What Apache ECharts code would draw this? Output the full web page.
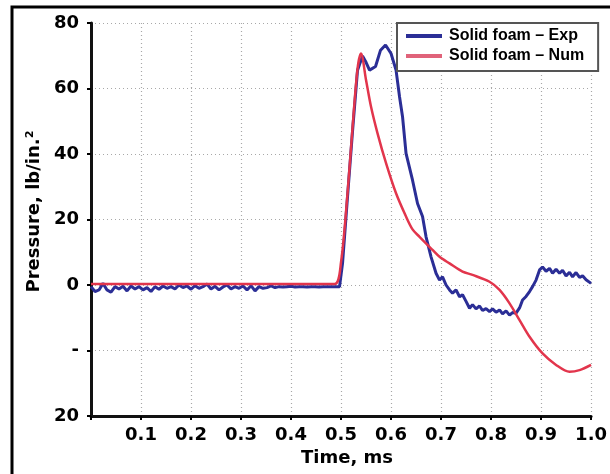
<!DOCTYPE html>
<html>
<head>
<meta charset="utf-8">
<script src="https://cdn.jsdelivr.net/npm/echarts@6/dist/echarts.min.js"></script>
<style>
  html, body { margin: 0; padding: 0; background: #fff; }
  #chart { width: 610px; height: 474px; }
</style>
</head>
<body>
<div id="chart"></div>
<script>
// tick labels as printed on the figure
const xTicks = [0.1, 0.2, 0.3, 0.4, 0.5, 0.6, 0.7, 0.8, 0.9, 1.0]
const yTickLabels = { '80': '80', '60': '60', '40': '40', '20': '20', '0': '0', '-20': '-', '-40': '20' }

// Solid foam - Exp (time in ms, pressure in lb/in.^2)
const expTime = [
  0.000, 0.008, 0.016, 0.024, 0.032, 0.040, 0.048, 0.056, 0.064, 0.072, 0.080, 0.088, 0.096,
  0.104, 0.112, 0.120, 0.128, 0.136, 0.144, 0.152, 0.160, 0.168, 0.176, 0.184, 0.192,
  0.200, 0.208, 0.216, 0.224, 0.232, 0.240, 0.248, 0.256, 0.264, 0.272, 0.280, 0.288,
  0.296, 0.304, 0.312, 0.320, 0.328, 0.336, 0.344, 0.352, 0.360, 0.368, 0.376, 0.384,
  0.392, 0.400, 0.408, 0.416, 0.424, 0.432, 0.440, 0.448, 0.456, 0.464, 0.472, 0.480,
  0.490, 0.497, 0.503, 0.513, 0.523, 0.533, 0.543, 0.550, 0.557, 0.569, 0.579, 0.589,
  0.600, 0.610, 0.617, 0.623, 0.630, 0.643, 0.653, 0.663, 0.670, 0.680, 0.690, 0.697,
  0.703, 0.710, 0.717, 0.723, 0.730, 0.737, 0.743, 0.750, 0.757, 0.763, 0.770, 0.777,
  0.783, 0.790, 0.797, 0.803, 0.810, 0.817, 0.823, 0.830, 0.837, 0.843, 0.850, 0.857,
  0.863, 0.870, 0.877, 0.883, 0.890, 0.897, 0.903, 0.910, 0.917, 0.923, 0.930, 0.937,
  0.943, 0.950, 0.957, 0.963, 0.970, 0.977, 0.983, 0.990, 1.000
]
const expPressure = [
  -0.5, -2.0, -1.5, 0.5, -1.5, -2.2, -0.5, -1.2, -0.4, -1.8, -0.3, -1.2,
  -0.5, -1.5, -0.8, -2.0, -0.5, -1.3, -0.3, -1.0, -0.5, -1.2, 0.0, -0.8, -0.3,
  -1.3, -0.2, -1.0, -0.5, 0.3, -1.2, -0.4, -1.5, -0.6, 0.0, -1.2, -0.5,
  -1.0, -0.3, -1.5, -0.2, -1.8, -0.5, -1.0, -0.8, -0.3, -0.8, -0.5, -0.6,
  -0.5, -0.4, -0.6, -0.5, -0.5, -0.6, -0.5, -0.5, -0.6, -0.5, -0.5, -0.5,
  -0.5, -0.5, 6.6, 27.0, 47.0, 65.6, 69.9, 68.0, 65.6, 66.7, 71.7, 73.3,
  70.7, 65.6, 57.5, 51.4, 40.2, 32.0, 24.9, 20.9, 14.7, 8.6, 3.6, 1.5,
  2.5, 0.0, -1.5, -2.5, -1.5, -3.6, -3.0, -5.0, -7.1, -6.0, -7.3, -6.4,
  -7.8, -7.2, -8.1, -7.3, -8.3, -7.6, -8.8, -7.9, -9.2, -8.4, -8.6, -7.0,
  -4.6, -3.5, -2.0, -0.5, 1.5, 4.6, 5.5, 4.2, 5.1, 3.6, 4.8, 3.6,
  4.5, 2.8, 3.9, 2.5, 3.8, 2.3, 2.8, 1.6, 0.5
]

// Solid foam - Num
const numTime = [
  0.000, 0.100, 0.200, 0.300, 0.400, 0.487, 0.500, 0.513, 0.523, 0.533, 0.540, 0.550,
  0.560, 0.573, 0.590, 0.610, 0.630, 0.643, 0.657, 0.683, 0.697, 0.717, 0.743, 0.763,
  0.797, 0.817, 0.837, 0.857, 0.877, 0.903, 0.930, 0.957, 0.977, 1.000
]
const numPressure = [
  0.3, 0.3, 0.3, 0.3, 0.3, 0.3, 7.0, 28.0, 48.0, 66.0, 70.7, 62.6,
  54.4, 46.3, 37.2, 28.0, 20.9, 17.0, 14.7, 10.7, 8.6, 6.6, 4.1, 3.1,
  1.0, -1.5, -5.6, -10.7, -15.8, -20.9, -24.4, -26.5, -26.0, -24.4
]

const expColor = '#2b2e96'
const numColor = '#e2354c'
const tickFont = 'DejaVu Sans, Verdana, sans-serif'
const legendFont = 'Liberation Sans, Arial, Helvetica, sans-serif'

const chart = echarts.init(document.getElementById('chart'))
chart.setOption({
  animation: false,
  backgroundColor: '#fff',
  // frame of the figure: only the left and top edges are inside the picture
  graphic: [
    {
      type: 'polyline',
      shape: { points: [[12, 474], [12, 7], [610, 7]] },
      style: { fill: null, stroke: '#000', lineWidth: 3 },
      z: 0
    }
  ],
  legend: {
    left: 397,
    top: 23,
    orient: 'vertical',
    itemGap: 4,
    itemWidth: 36,
    itemHeight: 4,
    icon: 'rect',
    padding: [5, 14, 7, 9],
    borderColor: '#555',
    borderWidth: 2,
    backgroundColor: '#fff',
    textStyle: { fontFamily: legendFont, fontWeight: 'bold', fontSize: 16, color: '#000', padding: [0, 0, 0, 2] },
    data: [
      { name: 'Solid foam \u2013 Exp', itemStyle: { color: expColor } },
      { name: 'Solid foam \u2013 Num', itemStyle: { color: '#e0637a' } }
    ]
  },
  grid: { left: 91, right: 18, top: 23, bottom: 58 },
  xAxis: {
    type: 'value',
    min: 0,
    max: 1,
    interval: 0.1,
    name: 'Time, ms',
    nameLocation: 'middle',
    nameGap: 25,
    nameTextStyle: { fontFamily: tickFont, fontWeight: 'bold', fontSize: 18, color: '#000', padding: [0, 0, 0, 12] },
    axisLine: { onZero: false, lineStyle: { color: '#111', width: 3 } },
    axisTick: { show: true, length: 4, lineStyle: { color: '#000', width: 2 } },
    axisLabel: {
      fontFamily: tickFont, fontWeight: 'bold', fontSize: 18, color: '#000', margin: 10,
      formatter: v => (xTicks.some(t => Math.abs(t - v) < 1e-6) ? v.toFixed(1) : '')
    },
    splitLine: { show: true, lineStyle: { color: '#a8a8a8', type: [1, 3], width: 1.2 } }
  },
  yAxis: {
    type: 'value',
    min: -40,
    max: 80,
    interval: 20,
    name: 'Pressure, lb/in.\u00b2',
    nameLocation: 'middle',
    nameGap: 48,
    nameTextStyle: { fontFamily: tickFont, fontWeight: 'bold', fontSize: 18, color: '#000', padding: [0, 0, 0, 16] },
    axisLine: { show: true, onZero: false, lineStyle: { color: '#111', width: 3 } },
    axisTick: { show: true, length: 4, lineStyle: { color: '#000', width: 2 } },
    axisLabel: {
      fontFamily: tickFont, fontWeight: 'bold', fontSize: 18, color: '#000', margin: 12,
      formatter: v => yTickLabels[String(v)] || ''
    },
    splitLine: { show: true, lineStyle: { color: '#a8a8a8', type: [1, 3], width: 1.2 } }
  },
  series: [
    {
      name: 'Solid foam \u2013 Exp',
      type: 'line',
      showSymbol: false,
      color: expColor,
      lineStyle: { color: expColor, width: 3 },
      data: expTime.map((t, i) => [t, expPressure[i]])
    },
    {
      name: 'Solid foam \u2013 Num',
      type: 'line',
      showSymbol: false,
      smooth: 0.3,
      color: numColor,
      lineStyle: { color: numColor, width: 2.5 },
      data: numTime.map((t, i) => [t, numPressure[i]])
    }
  ]
})
</script>
</body>
</html>
